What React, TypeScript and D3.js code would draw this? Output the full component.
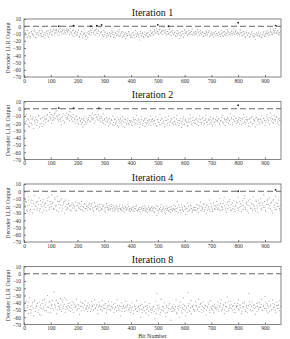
import { useEffect, useRef } from "react";
import * as d3 from "d3";

// decoder LLR samples; "a" arrays hold bits 0,4,8,..., "b" arrays hold bits 2,6,10,...
const iter1a = [
  -8, -12, -6, -15, -10, -9, -14, -7, -11, -13, -5, -9, -16, -11, -8, -12, -10, -6, -14, -9,
  -12, -7, -10, -15, -9, -5, -11, -8, -13, -6, -4, -9, -7, -12, -3, -8, -6, -10, -5, -11,
  -4, -9, -6, -3, -8, -12, -5, -10, -7, -13, -9, -6, -14, -11, -8, -16, -10, -12, -18, -9,
  -7, -11, -5, -9, -3, -8, -6, -12, -4, -10, -7, -2, -9, -13, -6, -11, -8, -15, -10, -12,
  -9, -14, -6, -11, -8, -16, -10, -7, -13, -5, -12, -9, -15, -8, -11, -17, -10, -13, -7, -12,
  -10, -15, -8, -12, -6, -14, -9, -11, -19, -7, -13, -10, -16, -8, -12, -9, -14, -11, -6, -10,
  -8, -12, -5, -10, -3, -7, -11, -4, -9, -6, -2, -8, -5, -12, -7, -10, -4, -9, -13, -6,
  -11, -8, -14, -6, -10, -17, -9, -12, -7, -15, -5, -10, -8, -13, -6, -9, -11, -4, -8, -12,
  -7, -10, -5, -9, -12, -6, -11, -8, -14, -10, -7, -13, -9, -6, -12, -8, -11, -15, -9, -7,
  -10, -13, -8, -11, -6, -9, -14, -7, -12, -10, -5, -8, -11, -13, -7, -10, -4, -9, -6, -12,
  -8, -11, -5, -9, -13, -7, -10, -16, -8, -12, -9, -14, -11, -7, -15, -10, -18, -9, -12, -8,
  -13, -9, -16, -11, -7, -14, -10, -6, -12, -8, -4, -9, -11, -5, -8, -3, -10, -6, -12, -9,
];
const iter1b = [
  -14, -9, -11, -6, -13, -16, -8, -10, -12, -7, -15, -11, -9, -13, -6, -10, -14, -8, -11, -16,
  -9, -13, -6, -11, -8, -12, -7, -4, -10, -9, -6, -12, -5, -9, -7, -11, -4, -8, -9, -6,
  -7, -5, -11, -8, -10, -6, -14, -9, -11, -8, -12, -15, -10, -7, -13, -11, -9, -14, -12, -15,
  -10, -8, -12, -6, -9, -11, -5, -8, -10, -6, -12, -9, -7, -11, -14, -8, -12, -10, -13, -9,
  -12, -10, -8, -15, -12, -9, -13, -11, -8, -14, -10, -7, -12, -14, -9, -12, -13, -8, -11, -15,
  -13, -9, -12, -16, -10, -11, -13, -15, -10, -12, -9, -14, -11, -13, -10, -15, -8, -12, -13, -9,
  -11, -7, -9, -6, -8, -10, -5, -9, -7, -11, -6, -9, -10, -7, -11, -8, -12, -7, -9, -11,
  -9, -13, -10, -12, -8, -11, -13, -7, -10, -12, -9, -7, -12, -10, -11, -8, -7, -12, -10, -9,
  -11, -8, -13, -7, -10, -9, -8, -13, -10, -12, -9, -11, -8, -14, -10, -12, -9, -11, -13, -10,
  -12, -9, -11, -14, -10, -12, -8, -11, -9, -13, -8, -11, -9, -10, -12, -8, -11, -7, -10, -9,
  -10, -13, -9, -12, -8, -11, -14, -9, -12, -10, -15, -11, -9, -13, -12, -14, -11, -13, -10, -14,
  -11, -15, -12, -9, -13, -11, -8, -10, -9, -12, -7, -11, -8, -10, -6, -9, -8, -11, -9, -7,
];

const iter2a = [
  -12, -18, -8, -22, -15, -25, -10, -20, -14, -27, -18, -12, -23, -16, -9, -21, -13, -24, -17, -11,
  -19, -14, -8, -16, -5, -12, -20, -9, -15, -6, -3, -11, -17, -8, -13, -22, -10, -7, -18, -12,
  -6, -14, -9, -4, -11, -17, -8, -13, -20, -10, -15, -22, -12, -18, -14, -25, -16, -11, -21, -19,
  -15, -9, -18, -12, -6, -14, -20, -8, -11, -3, -16, -10, -13, -19, -7, -15, -22, -12, -17, -24,
  -13, -20, -16, -10, -23, -15, -19, -12, -25, -17, -14, -21, -11, -18, -26, -15, -20, -13, -22, -17,
  -16, -23, -12, -19, -15, -9, -21, -14, -26, -18, -11, -20, -16, -24, -13, -19, -22, -15, -10, -18,
  -14, -21, -17, -11, -24, -15, -19, -8, -22, -13, -18, -25, -12, -16, -20, -10, -23, -17, -14, -19,
  -12, -18, -22, -9, -16, -20, -13, -26, -17, -11, -21, -15, -19, -24, -14, -8, -18, -22, -12, -16,
  -20, -13, -17, -23, -10, -15, -19, -12, -22, -16, -9, -18, -14, -21, -11, -17, -24, -13, -19, -15,
  -11, -18, -14, -21, -16, -9, -19, -13, -23, -15, -12, -20, -17, -7, -14, -22, -10, -18, -13, -16,
  -19, -12, -16, -22, -14, -8, -17, -21, -11, -15, -24, -13, -18, -10, -20, -16, -25, -12, -17, -14,
  -21, -15, -10, -18, -13, -23, -16, -8, -19, -12, -6, -17, -14, -20, -9, -15, -11, -18, -22, -13,
];
const iter2b = [
  -20, -10, -17, -13, -24, -19, -14, -22, -11, -16, -21, -15, -19, -10, -25, -14, -20, -12, -22, -15,
  -13, -9, -17, -11, -14, -8, -16, -12, -7, -13, -10, -14, -9, -15, -18, -12, -16, -20, -9, -14,
  -11, -8, -16, -10, -14, -12, -18, -15, -11, -17, -20, -13, -16, -21, -19, -14, -22, -18, -13, -16,
  -12, -17, -10, -15, -13, -9, -17, -12, -15, -8, -13, -18, -11, -16, -20, -13, -17, -19, -14, -21,
  -18, -15, -22, -19, -14, -21, -17, -23, -15, -20, -18, -16, -24, -14, -19, -22, -17, -20, -16, -19,
  -21, -18, -15, -22, -20, -17, -16, -19, -21, -15, -23, -17, -14, -19, -21, -16, -18, -20, -23, -15,
  -18, -16, -20, -23, -15, -19, -22, -16, -14, -20, -17, -21, -16, -23, -15, -19, -18, -13, -20, -22,
  -17, -21, -14, -19, -23, -16, -18, -20, -14, -22, -16, -18, -23, -17, -19, -13, -21, -16, -19, -20,
  -15, -22, -18, -14, -19, -21, -13, -17, -20, -14, -19, -22, -16, -15, -19, -21, -14, -18, -22, -17,
  -16, -13, -20, -17, -12, -18, -21, -15, -17, -19, -14, -16, -22, -12, -19, -15, -17, -13, -20, -18,
  -15, -21, -13, -18, -20, -12, -19, -15, -17, -20, -14, -19, -12, -21, -15, -18, -13, -22, -15, -19,
  -14, -18, -20, -13, -16, -19, -11, -14, -16, -21, -13, -10, -19, -15, -17, -12, -20, -14, -16, -18,
];

const iter4a = [
  -10, -22, -15, -28, -8, -19, -25, -12, -30, -17, -6, -21, -26, -14, -9, -24, -18, -29, -11, -20,
  -16, -27, -13, -8, -22, -18, -5, -15, -25, -11, -20, -7, -28, -14, -19, -10, -23, -16, -30, -12,
  -18, -24, -13, -21, -27, -16, -20, -23, -15, -26, -19, -22, -17, -25, -14, -21, -28, -18, -24, -20,
  -22, -17, -25, -19, -23, -28, -16, -21, -24, -19, -27, -22, -18, -25, -20, -23, -29, -17, -22, -26,
  -20, -24, -18, -27, -22, -25, -19, -23, -28, -21, -24, -26, -20, -23, -29, -22, -25, -18, -27, -24,
  -23, -26, -21, -28, -24, -19, -27, -25, -22, -30, -24, -21, -26, -23, -28, -25, -20, -27, -24, -22,
  -26, -22, -29, -24, -33, -21, -27, -25, -18, -28, -23, -26, -31, -20, -24, -27, -22, -29, -25, -23,
  -19, -27, -24, -14, -30, -22, -26, -18, -25, -28, -21, -32, -24, -16, -27, -23, -20, -29, -25, -22,
  -26, -18, -24, -29, -20, -15, -27, -22, -17, -25, -31, -19, -23, -12, -28, -21, -26, -16, -24, -20,
  -14, -25, -19, -10, -27, -22, -17, -8, -23, -29, -15, -20, -11, -26, -18, -24, -13, -28, -21, -16,
  -9, -22, -17, -28, -13, -20, -6, -25, -15, -19, -30, -11, -24, -18, -8, -21, -27, -14, -23, -12,
  -20, -10, -26, -16, -5, -22, -28, -13, -18, -9, -24, -15, -30, -11, -19, -7, -25, -17, -21, -27,
];
const iter4b = [
  -18, -14, -26, -20, -12, -27, -16, -21, -13, -25, -19, -15, -23, -18, -27, -13, -21, -15, -26, -17,
  -22, -10, -19, -25, -14, -21, -17, -24, -9, -20, -26, -14, -18, -23, -12, -27, -19, -14, -21, -25,
  -22, -17, -20, -26, -19, -23, -18, -21, -27, -20, -16, -24, -21, -19, -26, -22, -17, -24, -21, -26,
  -19, -24, -21, -17, -26, -22, -20, -25, -21, -23, -18, -26, -24, -21, -19, -27, -22, -20, -25, -23,
  -26, -21, -24, -20, -27, -23, -21, -26, -24, -19, -25, -22, -27, -24, -21, -26, -23, -21, -25, -28,
  -25, -22, -27, -24, -21, -26, -23, -28, -25, -22, -27, -24, -20, -26, -23, -29, -22, -25, -27, -21,
  -24, -28, -23, -20, -26, -30, -24, -22, -27, -25, -21, -29, -24, -26, -22, -28, -25, -21, -27, -24,
  -25, -21, -28, -23, -19, -26, -29, -22, -27, -20, -25, -23, -28, -21, -26, -19, -24, -27, -22, -26,
  -22, -27, -19, -23, -26, -21, -24, -18, -28, -22, -19, -26, -21, -25, -17, -23, -28, -20, -25, -22,
  -19, -23, -26, -17, -21, -25, -12, -20, -26, -18, -24, -14, -22, -27, -16, -21, -25, -19, -15, -23,
  -26, -14, -21, -19, -25, -10, -22, -17, -27, -13, -20, -23, -16, -26, -19, -24, -12, -20, -29, -17,
  -15, -24, -19, -22, -14, -26, -18, -11, -23, -20, -17, -27, -13, -22, -25, -16, -21, -12, -24, -19,
];

const iter8a = [
  -42, -52, -38, -47, -55, -33, -45, -50, -40, -58, -36, -48, -44, -53, -39, -46, -57, -41, -49, -35,
  -43, -51, -30, -46, -38, -54, -42, -48, -25, -44, -37, -50, -41, -47, -34, -52, -39, -45, -33, -49,
  -36, -44, -50, -40, -47, -38, -53, -42, -46, -35, -49, -43, -56, -39, -45, -41, -51, -37, -48, -44,
  -40, -46, -52, -38, -44, -49, -36, -47, -42, -55, -39, -45, -50, -37, -43, -48, -41, -54, -46, -38,
  -43, -49, -39, -46, -53, -41, -47, -36, -50, -44, -58, -40, -48, -45, -52, -38, -46, -42, -51, -44,
  -47, -40, -55, -43, -49, -37, -52, -45, -48, -60, -42, -50, -46, -39, -54, -44, -57, -41, -49, -53,
  -50, -45, -62, -38, -27, -48, -43, -56, -35, -51, -46, -40, -59, -44, -53, -48, -41, -64, -47, -52,
  -42, -49, -36, -55, -45, -60, -39, -51, -47, -33, -44, -58, -48, -26, -41, -52, -37, -46, -43, -50,
  -38, -44, -49, -35, -46, -41, -53, -39, -47, -43, -57, -45, -40, -50, -37, -48, -44, -54, -42, -46,
  -47, -39, -52, -44, -36, -49, -42, -55, -40, -46, -32, -51, -43, -38, -48, -45, -53, -41, -47, -44,
  -36, -50, -43, -55, -40, -46, -38, -52, -44, -48, -27, -42, -51, -39, -47, -43, -56, -41, -45, -49,
  -40, -46, -35, -51, -43, -31, -48, -41, -54, -38, -45, -50, -36, -47, -42, -53, -39, -44, -48, -37,
];
const iter8b = [
  -48, -40, -51, -44, -39, -49, -54, -43, -47, -38, -52, -45, -41, -50, -56, -43, -48, -37, -46, -51,
  -40, -46, -53, -39, -48, -44, -37, -50, -42, -47, -55, -40, -45, -49, -43, -36, -48, -42, -53, -46,
  -48, -41, -46, -52, -43, -49, -40, -47, -44, -50, -42, -48, -45, -51, -40, -47, -43, -49, -46, -52,
  -47, -43, -49, -45, -51, -42, -48, -44, -50, -46, -43, -49, -45, -51, -47, -43, -48, -50, -44, -49,
  -51, -45, -48, -42, -49, -46, -51, -44, -47, -50, -45, -52, -43, -48, -46, -50, -44, -49, -47, -53,
  -50, -46, -51, -45, -48, -52, -46, -50, -44, -49, -53, -47, -51, -45, -49, -47, -52, -46, -50, -48,
  -46, -52, -49, -55, -44, -50, -47, -53, -49, -45, -51, -48, -54, -46, -50, -43, -49, -52, -45, -48,
  -51, -45, -53, -48, -50, -44, -47, -54, -42, -49, -51, -46, -53, -44, -50, -47, -55, -45, -49, -52,
  -44, -50, -46, -52, -42, -49, -45, -51, -48, -44, -50, -47, -42, -53, -46, -49, -51, -45, -48, -50,
  -43, -49, -46, -41, -51, -47, -44, -50, -45, -52, -39, -48, -46, -42, -50, -44, -49, -53, -45, -41,
  -49, -43, -47, -52, -45, -41, -50, -46, -53, -44, -38, -49, -45, -51, -43, -48, -46, -52, -40, -47,
  -46, -42, -50, -45, -48, -39, -51, -44, -47, -52, -43, -49, -41, -46, -50, -44, -48, -42, -51, -45,
];

// dark points sitting on / above the zero line: [bit, llr]
const iter1Marks = [[130, 0], [185, 1], [250, 0], [272, 1], [290, 2], [500, 2], [540, 0], [800, 5], [940, 1]];
const iter2Marks = [[130, 1], [185, 1], [280, 1], [800, 5]];
const iter4Marks = [[800, 0], [940, 2]];
const iter8Marks: number[][] = [];

const panelTitles = ["Iteration 1", "Iteration 2", "Iteration 4", "Iteration 8"];
const panelSeriesA = [iter1a, iter2a, iter4a, iter8a];
const panelSeriesB = [iter1b, iter2b, iter4b, iter8b];
const panelMarks = [iter1Marks, iter2Marks, iter4Marks, iter8Marks];

const xTicks = [0, 100, 200, 300, 400, 500, 600, 700, 800, 900];
const yTicks = [10, 0, -10, -20, -30, -40, -50, -60, -70];
const STEP = 4;

export default function App() {
  const ref = useRef<SVGSVGElement>(null);

  useEffect(() => {
    if (!ref.current) return;
    const svg = d3.select(ref.current);
    svg.selectAll("*").remove();

    const font = "Liberation Serif, DejaVu Serif, serif";
    const left = 24;
    const right = 281;
    const plotH = 58;
    const tops = [19, 101.5, 184, 266.5];

    const x = d3.scaleLinear().domain([0, 960]).range([left, right]);

    panelSeriesA.forEach((valsA, pi) => {
      const top = tops[pi];
      const y = d3.scaleLinear().domain([-70, 10]).range([top + plotH, top]);
      const g = svg.append("g");

      // title
      g.append("text")
        .attr("x", (left + right) / 2)
        .attr("y", top - 3.5)
        .attr("text-anchor", "middle")
        .attr("font-family", font)
        .attr("font-size", "10px")
        .attr("fill", "#111")
        .text(panelTitles[pi]);

      // axes
      g.append("g")
        .attr("transform", `translate(0,${top + plotH})`)
        .call(d3.axisBottom(x).tickValues(xTicks).tickSize(-2).tickPadding(2))
        .call((a) => a.select(".domain").remove())
        .call((a) => a.selectAll(".tick line").attr("stroke", "#777"))
        .call((a) =>
          a.selectAll(".tick text").attr("font-family", font).attr("font-size", "5.5px").attr("fill", "#333")
        );

      g.append("g")
        .attr("transform", `translate(${left},0)`)
        .call(d3.axisLeft(y).tickValues(yTicks).tickSize(-2).tickPadding(3))
        .call((a) => a.select(".domain").remove())
        .call((a) => a.selectAll(".tick line").attr("stroke", "#777"))
        .call((a) =>
          a.selectAll(".tick text").attr("font-family", font).attr("font-size", "5.5px").attr("fill", "#333")
        );

      // frame
      g.append("rect")
        .attr("x", left)
        .attr("y", top)
        .attr("width", right - left)
        .attr("height", plotH)
        .attr("fill", "none")
        .attr("stroke", "#666")
        .attr("stroke-width", 0.8);

      // zero line
      g.append("line")
        .attr("x1", left)
        .attr("x2", right)
        .attr("y1", y(0))
        .attr("y2", y(0))
        .attr("stroke", "#555")
        .attr("stroke-width", 0.9)
        .attr("stroke-dasharray", "6,3");

      // LLR samples
      g.selectAll(".pa")
        .data(valsA)
        .join("circle")
        .attr("class", "pa")
        .attr("cx", (_, i) => x(i * STEP))
        .attr("cy", (d) => y(d))
        .attr("r", 0.55)
        .attr("fill", "#9a9a9a");

      g.selectAll(".pb")
        .data(panelSeriesB[pi])
        .join("circle")
        .attr("class", "pb")
        .attr("cx", (_, i) => x(i * STEP + 2))
        .attr("cy", (d) => y(d))
        .attr("r", 0.55)
        .attr("fill", "#9a9a9a");

      g.selectAll(".mk")
        .data(panelMarks[pi])
        .join("circle")
        .attr("class", "mk")
        .attr("cx", (d) => x(d[0]))
        .attr("cy", (d) => y(d[1]))
        .attr("r", 0.9)
        .attr("fill", "#222");

      // y label
      g.append("text")
        .attr("transform", `translate(8,${top + plotH / 2}) rotate(-90)`)
        .attr("text-anchor", "middle")
        .attr("dy", "0.35em")
        .attr("font-family", font)
        .attr("font-size", "6px")
        .attr("fill", "#333")
        .text("Decoder LLR Output");
    });

    svg.append("text")
      .attr("x", (left + right) / 2)
      .attr("y", 337.5)
      .attr("text-anchor", "middle")
      .attr("font-family", font)
      .attr("font-size", "6px")
      .attr("fill", "#333")
      .text("Bit Number");
  }, []);

  return (
    <svg
      ref={ref}
      width={290}
      height={339}
      style={{ position: "absolute", left: 0, top: 0, background: "#fff" }}
    />
  );
}
